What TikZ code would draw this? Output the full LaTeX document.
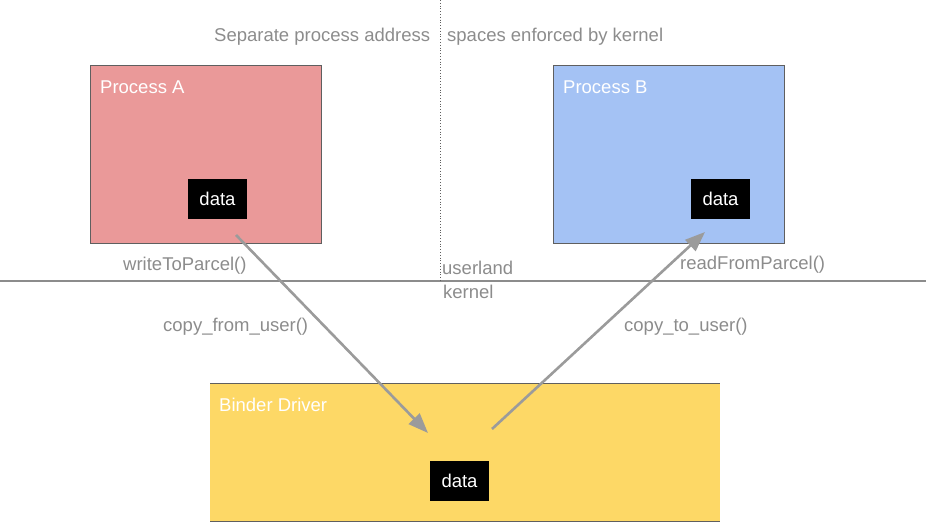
\documentclass[tikz,border=0pt]{standalone}
\usepackage{fontspec}
\setmainfont{Liberation Sans}
\usetikzlibrary{arrows.meta, positioning}
\definecolor{procA}{HTML}{EA9999}
\definecolor{procB}{HTML}{A4C2F4}
\definecolor{driver}{HTML}{FDD866}
\definecolor{edgegray}{HTML}{5F5F5F}
\definecolor{notegray}{HTML}{8C8C8C}
\definecolor{arrowgray}{HTML}{9B9B9B}
\begin{document}
\begin{tikzpicture}[x=1pt, y=-1pt, font=\fontsize{18.5}{21}\selectfont,
  procbox/.style={draw=edgegray, line width=0.8pt, anchor=north west, inner sep=0pt,
    minimum width=231pt, minimum height=178pt},
  datum/.style={fill=black, text=white, minimum width=59pt, minimum height=40pt, inner sep=0pt},
  boxtitle/.style={text=white, anchor=base west, inner sep=0pt},
  note/.style={text=notegray, anchor=base west, inner sep=0pt},
  flow/.style={draw=arrowgray, line width=2.6pt, -{Triangle[length=20pt, width=15pt]}}]
\useasboundingbox (0,0) rectangle (926,530);

% boundary between userland and kernel
\coordinate (split-l) at (0,281);
\coordinate (split-r) at (926,281);
\coordinate (wall-top) at (440,0);
\coordinate (wall-bot) at (440,281);
\draw[notegray, line width=1.8pt] (split-l) -- (split-r);
\draw[edgegray, dotted, line width=0.8pt] (wall-top) -- (wall-bot);
\node[note] (sep-l) at (214,41) {Separate process address};
\node[note] (sep-r) at (447,41) {spaces enforced by kernel};
\node[note] (user) at (442,274) {userland};
\node[note] (kern) at (443,298) {kernel};

% Process A
\node[procbox, fill=procA] (procA) at (90,65) {};
\node[boxtitle] (procA-name) at (100,93) {Process A};
\node[datum] (dataA) at (217.5,199) {data};
\node[note] (write) at (123,270) {writeToParcel()};

% Process B
\node[procbox, fill=procB] (procB) at (553,65) {};
\node[boxtitle] (procB-name) at (563,93) {Process B};
\node[datum] (dataB) at (720.5,199) {data};
\node[note] (read) at (680,269) {readFromParcel()};

% Binder Driver
\node[fill=driver, anchor=north west, inner sep=0pt, minimum width=510pt, minimum height=138pt] (drv) at (210,383) {};
\draw[edgegray, line width=0.8pt] (drv.north west) -- (drv.north east);
\draw[edgegray, line width=0.8pt] (drv.south west) -- (drv.south east);
\node[boxtitle] (drv-name) at (219,411) {Binder Driver};
\node[datum] (dataD) at (459.5,481) {data};

% copies across the boundary
\coordinate (a-out) at (236,235);
\coordinate (drv-in) at (428,433);
\coordinate (drv-out) at (492,429);
\coordinate (b-in) at (705,232);
\draw[flow] (a-out) -- (drv-in);
\draw[flow] (drv-out) -- (b-in);
\node[note] (from-user) at (163,331) {copy\_from\_user()};
\node[note] (to-user) at (624,331) {copy\_to\_user()};
\end{tikzpicture}
\end{document}
